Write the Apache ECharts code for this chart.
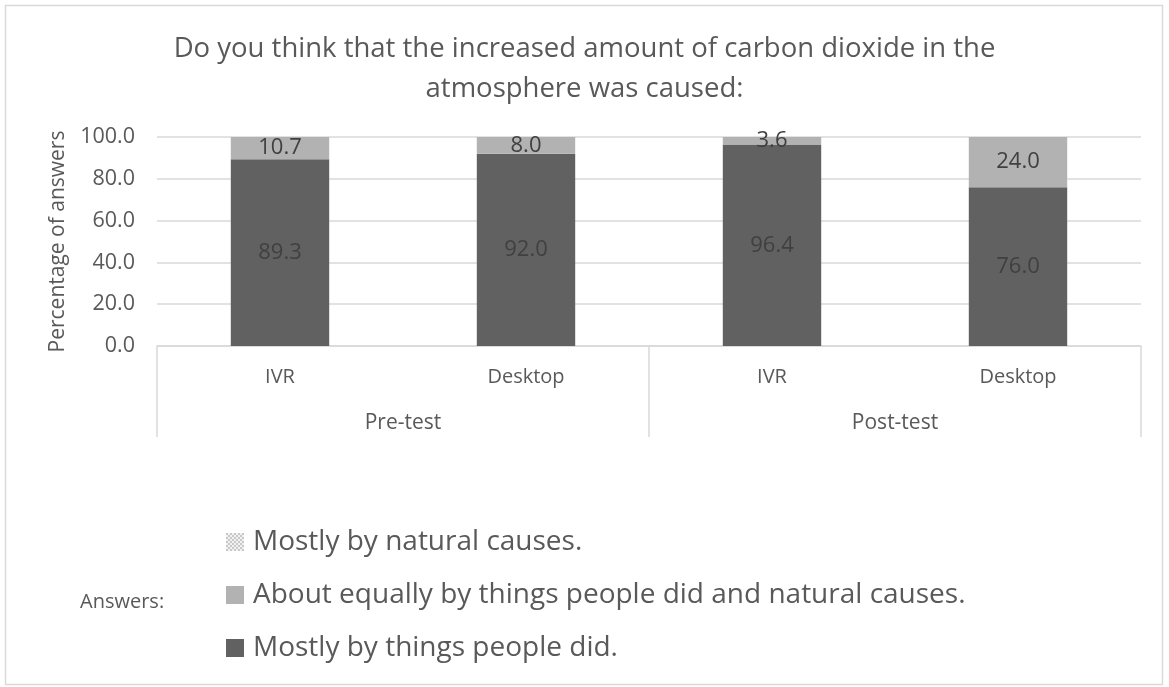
<!DOCTYPE html>
<html>
<head>
<meta charset="utf-8">
<script src="https://cdn.jsdelivr.net/npm/echarts@6/dist/echarts.min.js"></script>
<style>
  html, body { margin: 0; padding: 0; background: #fff; }
  #chart { width: 1169px; height: 687px; }
</style>
</head>
<body>
<div id="chart"></div>
<script>
// Survey results: share of answers per group (percent)
const groups = ['IVR', 'Desktop', 'IVR', 'Desktop'];
const phases = ['Pre-test', 'Post-test'];
const peopleDid = [89.3, 92.0, 96.4, 76.0];
const aboutEqually = [10.7, 8.0, 3.6, 24.0];
const naturalCauses = [0, 0, 0, 0];
const seriesNames = [
  'Mostly by natural causes.',
  'About equally by things people did and natural causes.',
  'Mostly by things people did.'
];

const FONT = 'Open Sans';
const TEXT = '#595959';

// small checkered fill for the "natural causes" series
function checkerPattern() {
  const c = document.createElement('canvas');
  c.width = 4; c.height = 4;
  const g = c.getContext('2d');
  g.fillStyle = '#f2f2f2';
  g.fillRect(0, 0, 4, 4);
  g.fillStyle = '#c8c8c8';
  g.fillRect(0, 0, 2, 2);
  g.fillRect(2, 2, 2, 2);
  return { image: c, repeat: 'repeat' };
}

const chart = echarts.init(document.getElementById('chart'), null, { renderer: 'canvas' });

const labelStyle = {
  show: true,
  position: 'inside',
  color: '#404040',
  fontFamily: FONT,
  fontSize: 22,
  formatter: p => p.value.toFixed(1)
};

chart.setOption({
  animation: false,
  textStyle: { fontFamily: FONT },
  title: {
    text: 'Do you think that the increased amount of carbon dioxide in the\natmosphere was caused:',
    left: 'center',
    top: 24,
    textStyle: {
      fontFamily: FONT,
      fontSize: 27.5,
      fontWeight: 'normal',
      color: TEXT,
      lineHeight: 40,
      align: 'center'
    }
  },
  grid: { left: 157, right: 28, top: 137, bottom: 341, containLabel: false },
  legend: {
    orient: 'vertical',
    left: 226,
    top: 528,
    padding: 0,
    itemWidth: 18,
    itemHeight: 18,
    itemGap: 25,
    icon: 'rect',
    data: seriesNames,
    textStyle: { fontFamily: FONT, fontSize: 28, color: TEXT, padding: [0, 0, 0, 4] }
  },
  xAxis: [
    {
      type: 'category',
      data: groups,
      position: 'bottom',
      axisLine: { lineStyle: { color: '#d9d9d9', width: 1.5 } },
      axisTick: { show: false },
      axisLabel: { color: TEXT, fontFamily: FONT, fontSize: 20, margin: 21 }
    },
    {
      type: 'category',
      data: phases,
      position: 'bottom',
      axisLine: { show: false },
      axisTick: { show: true, length: 91, lineStyle: { color: '#d9d9d9', width: 1.5 } },
      axisLabel: { color: TEXT, fontFamily: FONT, fontSize: 21, margin: 67 }
    }
  ],
  yAxis: {
    type: 'value',
    min: 0,
    max: 100,
    interval: 20,
    name: 'Percentage of answers',
    nameLocation: 'middle',
    nameGap: 88,
    nameTextStyle: { color: TEXT, fontFamily: FONT, fontSize: 21 },
    axisLine: { show: false },
    axisTick: { show: false },
    splitLine: { lineStyle: { color: '#d9d9d9', width: 1.5 } },
    axisLabel: { color: TEXT, fontFamily: FONT, fontSize: 21.5, margin: 22, formatter: v => v.toFixed(1) }
  },
  series: [
    {
      name: seriesNames[2],
      type: 'bar',
      stack: 'answers',
      xAxisIndex: 0,
      barWidth: '40%',
      data: peopleDid,
      itemStyle: { color: '#616161' },
      label: labelStyle
    },
    {
      name: seriesNames[1],
      type: 'bar',
      stack: 'answers',
      xAxisIndex: 0,
      data: aboutEqually,
      itemStyle: { color: '#b2b2b2' },
      label: labelStyle
    },
    {
      name: seriesNames[0],
      type: 'bar',
      stack: 'answers',
      xAxisIndex: 0,
      data: naturalCauses,
      itemStyle: { color: checkerPattern() },
      label: { show: false }
    }
  ],
  graphic: [
    {
      type: 'rect',
      shape: { x: 5.5, y: 5.5, width: 1157, height: 679 },
      style: { fill: 'none', stroke: '#d9d9d9', lineWidth: 1.5 },
      silent: true
    },
    {
      type: 'text',
      left: 80,
      top: 592,
      style: { text: 'Answers:', fill: TEXT, font: '20px "Open Sans"' },
      silent: true
    }
  ]
});
</script>
</body>
</html>
